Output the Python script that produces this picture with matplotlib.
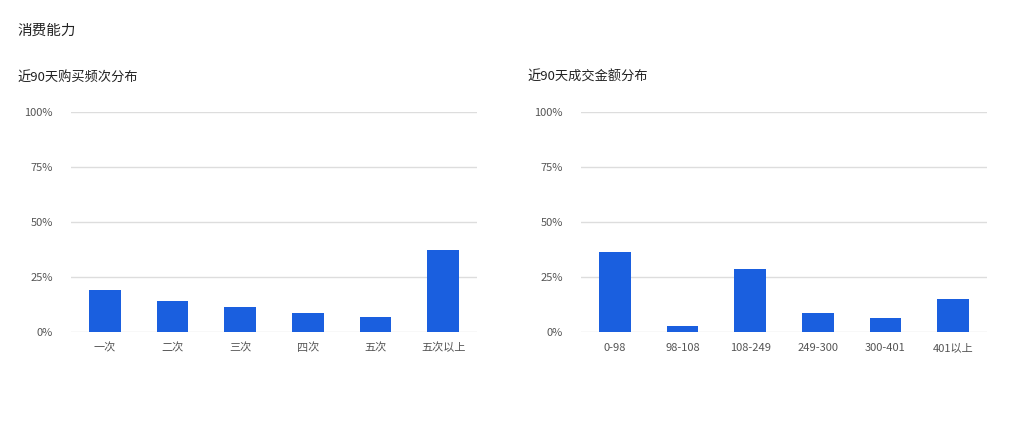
import matplotlib
matplotlib.use("Agg")
import matplotlib.pyplot as plt
from matplotlib.ticker import FuncFormatter

plt.rcParams["font.family"] = ["Noto Sans CJK SC", "DejaVu Sans"]

freq_labels = ["一次", "二次", "三次", "四次", "五次", "五次以上"]
freq_values = [19.2, 14.2, 11.5, 8.8, 7.0, 37.4]

amount_labels = ["0-98", "98-108", "108-249", "249-300", "300-401", "401以上"]
amount_values = [36.5, 2.9, 28.8, 8.8, 6.5, 15.1]

y_ticks = [0, 25, 50, 75, 100]

BAR_COLOR = "#1a5fdf"
GRID_COLOR = "#dddddd"
TICK_COLOR = "#555555"

W, H = 1015, 429
fig = plt.figure(figsize=(W / 100, H / 100), dpi=100)


def px_axes(x0, x1, y_top, y_bottom):
    return fig.add_axes([x0 / W, 1 - y_bottom / H, (x1 - x0) / W, (y_bottom - y_top) / H])


def draw_bars(ax, labels, values):
    ax.bar(range(len(labels)), values, width=0.47, color=BAR_COLOR, zorder=3)
    ax.set_ylim(0, 100)
    ax.set_xlim(-0.5, len(labels) - 0.5)
    ax.set_yticks(y_ticks)
    ax.yaxis.set_major_formatter(FuncFormatter(lambda v, _: f"{v:.0f}%"))
    ax.set_xticks(range(len(labels)))
    ax.set_xticklabels(labels)
    ax.grid(axis="y", color=GRID_COLOR, linewidth=1, zorder=0)
    for s in ax.spines.values():
        s.set_visible(False)
    ax.tick_params(axis="both", length=0, labelsize=8, colors=TICK_COLOR)
    ax.tick_params(axis="y", pad=13)
    ax.tick_params(axis="x", pad=10.5)
    for lbl in ax.get_xticklabels():
        lbl.set_va("center_baseline")


ax1 = px_axes(71, 477, 112.3, 332.3)
draw_bars(ax1, freq_labels, freq_values)

ax2 = px_axes(581, 987, 112.3, 332.3)
draw_bars(ax2, amount_labels, amount_values)

fig.text(17 / W, 1 - 31 / H, "消费能力", fontsize=10.5, color="#222222", va="center")
fig.text(17 / W, 1 - 77 / H, "近90天购买频次分布", fontsize=9.5, color="#222222", va="center")
fig.text(527 / W, 1 - 77 / H, "近90天成交金额分布", fontsize=9.5, color="#222222", va="center")

fig.savefig("out.png", dpi=100)
